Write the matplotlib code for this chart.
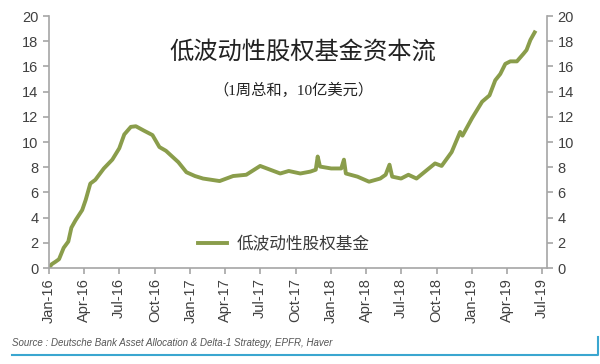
import matplotlib
matplotlib.use("Agg")
import matplotlib.pyplot as plt
import matplotlib.dates as mdates
import numpy as np
import pandas as pd

plt.rcParams['font.family'] = ['Liberation Sans', 'Noto Sans CJK SC', 'DejaVu Sans']

# 每周累计资金流（10亿美元），从图上读出的估计值
dates = ["2016-01-01", "2016-01-08", "2016-01-18", "2016-01-27", "2016-02-08", "2016-02-20",
         "2016-02-28", "2016-03-10", "2016-03-27", "2016-04-05", "2016-04-17", "2016-04-30",
         "2016-05-22", "2016-06-13", "2016-07-01", "2016-07-14", "2016-07-31", "2016-08-13",
         "2016-09-03", "2016-09-25", "2016-10-13", "2016-10-30", "2016-12-01", "2016-12-22",
         "2017-01-13", "2017-02-03", "2017-03-18", "2017-04-22", "2017-05-26", "2017-07-01",
         "2017-07-27", "2017-08-22", "2017-09-13", "2017-10-13", "2017-11-08", "2017-11-22",
         "2017-11-27", "2017-12-03", "2018-01-01", "2018-01-27", "2018-02-03", "2018-02-08",
         "2018-03-10", "2018-04-09", "2018-05-08", "2018-05-22", "2018-06-01", "2018-06-08",
         "2018-07-01", "2018-07-20", "2018-08-10", "2018-09-01", "2018-09-27", "2018-10-14",
         "2018-11-09", "2018-12-01", "2018-12-07", "2019-01-01", "2019-01-27", "2019-02-15",
         "2019-03-02", "2019-03-15", "2019-03-28", "2019-04-10", "2019-04-27", "2019-05-14",
         "2019-05-22", "2019-06-01", "2019-06-12"]
flows = [0.0, 0.3, 0.5, 0.7, 1.6, 2.1,
         3.2, 3.8, 4.6, 5.4, 6.7, 7.0,
         7.9, 8.6, 9.5, 10.6, 11.2, 11.25,
         10.9, 10.55, 9.6, 9.3, 8.4, 7.6,
         7.3, 7.1, 6.9, 7.3, 7.4, 8.1,
         7.8, 7.5, 7.7, 7.5, 7.65, 7.8,
         8.85, 8.05, 7.9, 7.9, 8.6, 7.5,
         7.25, 6.85, 7.1, 7.4, 8.2, 7.25,
         7.1, 7.4, 7.1, 7.65, 8.3, 8.1,
         9.2, 10.8, 10.5, 11.9, 13.2, 13.7,
         14.9, 15.4, 16.2, 16.4, 16.4, 17.0,
         17.3, 18.1, 18.7]
yticks = list(range(0, 21, 2))
title = "低波动性股权基金资本流"
subtitle = "（1周总和，10亿美元）"
label = "低波动性股权基金"
source = "Source : Deutsche Bank Asset Allocation & Delta-1 Strategy, EPFR, Haver"

x = pd.to_datetime(dates)
green = '#8a9d4b'
grey = '#a6a6a6'

fig = plt.figure(figsize=(6, 3.64), dpi=100)
ax = fig.add_axes([49/600, 1-268/364, (547-49)/600, (268-16)/364])
ax.plot(x, flows, color=green, lw=2.8, solid_joinstyle='round', label=label)

ax.set_xlim(pd.Timestamp("2016-01-01"), pd.Timestamp("2019-07-14"))
ax.set_ylim(0, 20)
ax.set_yticks(yticks)
ax.xaxis.set_major_locator(mdates.MonthLocator(bymonth=[1, 4, 7, 10]))
ax.xaxis.set_major_formatter(mdates.DateFormatter('%b-%y'))
for t in ax.get_xticklabels():
    t.set_rotation(90)

ax.spines['top'].set_visible(False)
for s in ['left', 'right', 'bottom']:
    ax.spines[s].set_color(grey)
    ax.spines[s].set_linewidth(1.2)
ax.tick_params(axis='both', colors=grey, labelcolor='#404040', labelsize=10.5,
               length=4, width=1.2)
ax.tick_params(axis='y', right=True, labelright=True)

ax.text(0.51, 0.86, title, transform=ax.transAxes, ha='center', va='center',
        fontsize=17.5, color='#222222', fontweight='light',
        family=['Noto Sans CJK SC', 'DejaVu Sans'])
ax.text(0.49, 0.705, subtitle, transform=ax.transAxes, ha='center', va='center',
        fontsize=11, color='#222222', family=['Liberation Serif', 'Noto Sans CJK SC'])

leg = ax.legend(loc='lower left', bbox_to_anchor=(0.27, 0.0), frameon=False,
                handlelength=1.7, handletextpad=0.6, fontsize=12)
for t in leg.get_texts():
    t.set_color('#3a3a3a')
    t.set_family(['Noto Sans CJK SC', 'DejaVu Sans'])

fig.text(12/600, 1-343/364, source, fontsize=7, style='italic', color='#555555',
         va='center', ha='left')
fig.add_artist(plt.Line2D([12/600, 598/600, 598/600], [1-355/364, 1-355/364, 1-337/364],
                          color='#3aa6d0', lw=1.5, transform=fig.transFigure))

fig.savefig("out.png", dpi=100)
